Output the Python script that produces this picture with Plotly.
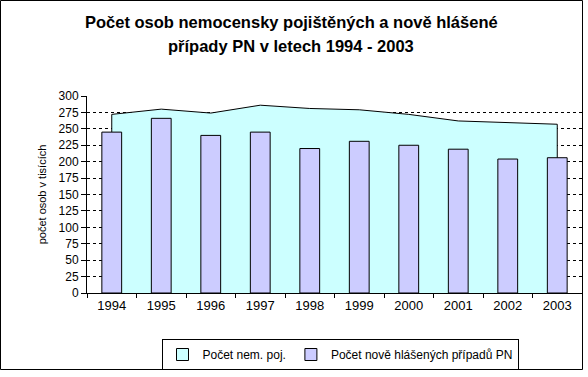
import plotly.graph_objects as go

years = ["1994", "1995", "1996", "1997", "1998", "1999", "2000", "2001", "2002", "2003"]
insured = [272, 280, 274, 286, 281, 279, 272, 262, 259, 257]
new_cases = [245, 266, 240, 245, 220, 231, 225, 219, 204, 206]
y_ticks = [0, 25, 50, 75, 100, 125, 150, 175, 200, 225, 250, 275, 300]

FONT = "Arial, Liberation Sans, sans-serif"
W, H = 588, 377
ML, MR, MT, MB = 87, 6, 96, 84
PW, PH = W - ML - MR, H - MT - MB

def px_x(p):
    return (p - ML) / PW

def px_y(p):
    return (H - MB - p) / PH

fig = go.Figure()

# legend-only entry for the area series (square swatch like Excel)
fig.add_trace(go.Bar(x=[years[0]], y=[None], name="Počet nem. poj.",
                     marker=dict(color="#CCFFFF", line=dict(color="black", width=1)),
                     xaxis="x", yaxis="y", hoverinfo="skip"))

# area series: closed polygon from baseline through values back to baseline
area_x = [years[0]] + years + [years[-1]]
area_y = [0] + insured + [0]
fig.add_trace(go.Scatter(x=area_x, y=area_y, mode="lines", fill="toself",
                         fillcolor="#CCFFFF", line=dict(color="black", width=1),
                         showlegend=False, xaxis="x", yaxis="y"))

fig.add_trace(go.Bar(x=years, y=new_cases, name="Počet nově hlášených případů PN",
                     width=0.4,
                     marker=dict(color="#CCCCFF", line=dict(color="black", width=1)),
                     xaxis="x2", yaxis="y2"))

fig.update_layout(
    width=W, height=H,
    margin=dict(l=ML, r=MR, t=MT, b=MB),
    paper_bgcolor="white", plot_bgcolor="white",
    font=dict(family=FONT, size=12, color="black"),
    barmode="overlay",
    showlegend=True,
    legend=dict(orientation="h", x=px_x(340), xanchor="center",
                y=px_y(339), yanchor="top",
                bordercolor="black", borderwidth=1, bgcolor="white",
                font=dict(family=FONT, size=12, color="black"),
                traceorder="normal", itemwidth=30),
    xaxis=dict(type="category", categoryorder="array", categoryarray=years,
               range=[-0.5, len(years) - 0.5],
               showline=True, linecolor="black", linewidth=1,
               ticks="outside", tickson="boundaries", ticklen=4, tickcolor="black",
               showgrid=False, zeroline=False,
               tickfont=dict(family=FONT, size=13, color="black")),
    yaxis=dict(range=[0, 300], tickvals=y_ticks,
               showline=True, linecolor="black", linewidth=1,
               ticks="outside", ticklen=5, tickcolor="black",
               showgrid=True, gridcolor="black", gridwidth=1, griddash="3px,3px",
               zeroline=False,
               tickfont=dict(family=FONT, size=12, color="black"),
               title=dict(text="počet osob v tisících", standoff=9,
                          font=dict(family=FONT, size=11, color="black"))),
    xaxis2=dict(type="category", categoryorder="array", categoryarray=years,
                range=[-0.5, len(years) - 0.5], overlaying="x", visible=False),
    yaxis2=dict(range=[0, 300], overlaying="y", visible=False),
    annotations=[
        dict(text="<b>Počet osob nemocensky pojištěných a nově hlášené</b>",
             xref="paper", yref="paper", x=px_x(291), y=px_y(22),
             xanchor="center", yanchor="middle", showarrow=False,
             font=dict(family=FONT, size=16.5, color="black")),
        dict(text="<b>případy PN v letech 1994 - 2003</b>",
             xref="paper", yref="paper", x=px_x(291), y=px_y(46),
             xanchor="center", yanchor="middle", showarrow=False,
             font=dict(family=FONT, size=16.5, color="black")),
    ],
    shapes=[
        dict(type="rect", xref="paper", yref="paper",
             x0=px_x(0.5), x1=px_x(582.5), y0=px_y(369.5), y1=px_y(0.5),
             line=dict(color="black", width=1), fillcolor="rgba(0,0,0,0)",
             layer="above"),
    ],
)

fig.write_html("out.html", config={"displayModeBar": False},
               post_script="document.body.style.margin='0';document.body.style.padding='0';")
